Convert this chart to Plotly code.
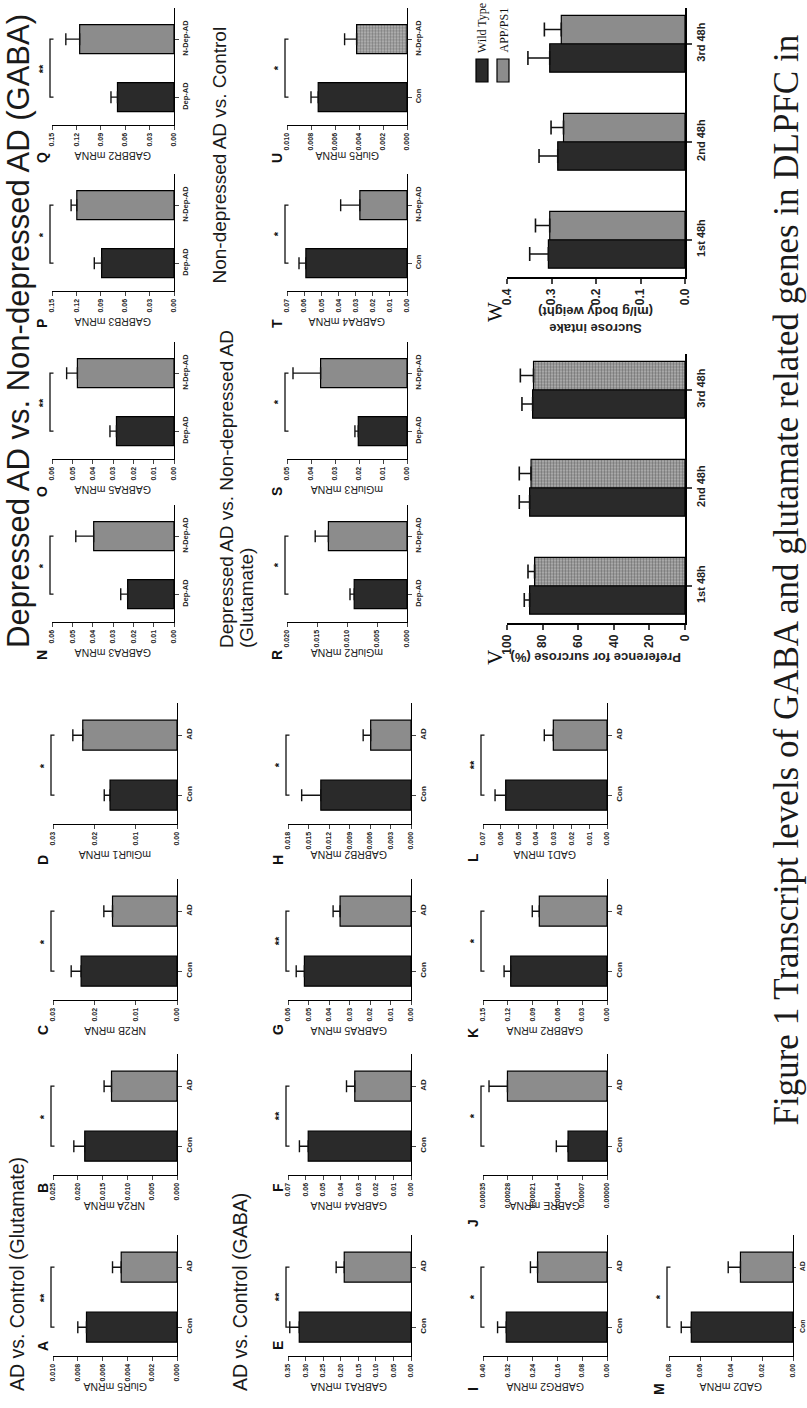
import plotly.graph_objects as go

W, H = 807, 1408

# ------------------------------------------------------------------ data
PANEL_IDS = list("ABCDEFGHIJKLMNOPQRSTU")

GENE_NAMES = [
    "GluR5 mRNA", "NR2A mRNA", "NR2B mRNA", "mGluR1 mRNA",
    "GABRA1 mRNA", "GABRA4 mRNA", "GABRA5 mRNA", "GABRB2 mRNA",
    "GABRG2 mRNA", "GABRE mRNA", "GABBR2 mRNA", "GAD1 mRNA",
    "GAD2 mRNA",
    "GABRA3 mRNA", "GABRA5 mRNA", "GABRB3 mRNA", "GABBR2 mRNA",
    "mGluR2 mRNA", "mGluR3 mRNA", "GABRA4 mRNA", "GluR5 mRNA",
]

GROUP_LABELS = ([("Con", "AD")] * 13
                + [("Dep-AD", "N-Dep-AD")] * 6
                + [("Con", "N-Dep-AD")] * 2)

MEAN_FIRST = [0.0073, 0.0186, 0.0232, 0.0162,
              0.318, 0.0585, 0.052, 0.0132,
              0.325, 0.00011, 0.1165, 0.0572,
              0.0656,
              0.0228, 0.0283, 0.089, 0.0695,
              0.0088, 0.0203, 0.059, 0.0074]
SEM_FIRST = [0.0007, 0.0022, 0.0024, 0.0014,
             0.027, 0.005, 0.004, 0.0028,
             0.028, 0.000033, 0.008, 0.006,
             0.0065,
             0.0034, 0.0032, 0.009, 0.008,
             0.0007, 0.0014, 0.004, 0.0006]
MEAN_SECOND = [0.0045, 0.0132, 0.0156, 0.0228,
               0.19, 0.032, 0.0346, 0.0059,
               0.224, 0.000281, 0.0819, 0.0303,
               0.0339,
               0.0395, 0.0475, 0.1195, 0.116,
               0.0131, 0.036, 0.0275, 0.0042]
SEM_SECOND = [0.0007, 0.0015, 0.0021, 0.0024,
              0.023, 0.0047, 0.0034, 0.0011,
              0.023, 0.000052, 0.0085, 0.0051,
              0.0079,
              0.0088, 0.0053, 0.007, 0.017,
              0.0022, 0.0115, 0.0112, 0.001]

SIGNIFICANCE = ["**", "*", "*", "*",
                "**", "**", "**", "*",
                "*", "*", "*", "**",
                "*",
                "*", "**", "*", "**",
                "*", "*", "*", "*"]

AXIS_TICKS = [
    ["0.000", "0.002", "0.004", "0.006", "0.008", "0.010"],
    ["0.000", "0.005", "0.010", "0.015", "0.020", "0.025"],
    ["0.00", "0.01", "0.02", "0.03"],
    ["0.00", "0.01", "0.02", "0.03"],
    ["0.00", "0.05", "0.10", "0.15", "0.20", "0.25", "0.30", "0.35"],
    ["0.00", "0.01", "0.02", "0.03", "0.04", "0.05", "0.06", "0.07"],
    ["0.00", "0.01", "0.02", "0.03", "0.04", "0.05", "0.06"],
    ["0.000", "0.003", "0.006", "0.009", "0.012", "0.015", "0.018"],
    ["0.00", "0.08", "0.16", "0.24", "0.32", "0.40"],
    ["0.00000", "0.00007", "0.00014", "0.00021", "0.00028", "0.00035"],
    ["0.00", "0.03", "0.06", "0.09", "0.12", "0.15"],
    ["0.00", "0.01", "0.02", "0.03", "0.04", "0.05", "0.06", "0.07"],
    ["0.00", "0.02", "0.04", "0.06", "0.08"],
    ["0.00", "0.01", "0.02", "0.03", "0.04", "0.05", "0.06"],
    ["0.00", "0.01", "0.02", "0.03", "0.04", "0.05", "0.06"],
    ["0.00", "0.03", "0.06", "0.09", "0.12", "0.15"],
    ["0.00", "0.03", "0.06", "0.09", "0.12", "0.15"],
    ["0.000", "0.005", "0.010", "0.015", "0.020"],
    ["0.00", "0.01", "0.02", "0.03", "0.04", "0.05"],
    ["0.00", "0.01", "0.02", "0.03", "0.04", "0.05", "0.06", "0.07"],
    ["0.000", "0.002", "0.004", "0.006", "0.008", "0.010"],
]

# sucrose preference test, wild type vs APP/PS1 mice
PERIODS = ["1st 48h", "2nd 48h", "3rd 48h"]
PREF_WT = [87.3, 87.3, 85.6]
PREF_WT_SEM = [3.0, 5.8, 6.0]
PREF_APP = [84.5, 86.5, 85.1]
PREF_APP_SEM = [3.7, 6.6, 7.4]
PREF_TICKS = ["0", "20", "40", "60", "80", "100"]
INTAKE_WT = [0.307, 0.286, 0.304]
INTAKE_WT_SEM = [0.042, 0.042, 0.049]
INTAKE_APP = [0.304, 0.273, 0.278]
INTAKE_APP_SEM = [0.032, 0.028, 0.038]
INTAKE_TICKS = ["0.0", "0.1", "0.2", "0.3", "0.4"]

# ------------------------------------------------------------------ layout
# panel frame in page pixels: (x of axis maximum, x of zero line, y of value axis)
PANEL_FRAME = {
    "A": (53, 177, 1356), "B": (53, 177, 1175), "C": (53, 177, 1000), "D": (53, 177, 824),
    "E": (288, 411, 1356), "F": (288, 411, 1175), "G": (288, 411, 1000), "H": (288, 411, 824),
    "I": (483, 607, 1356), "J": (483, 607, 1175), "K": (483, 607, 1000), "L": (483, 607, 824),
    "M": (669, 793, 1356),
    "N": (52, 174, 622), "O": (52, 174, 459), "P": (52, 174, 291), "Q": (52, 174, 125),
    "R": (287, 407, 622), "S": (287, 407, 459), "T": (287, 407, 291), "U": (287, 407, 125),
}
# offset of each panel letter below the value axis, in pixels
LETTER_DROP = {"A": -10, "E": -10, "B": 13, "F": 13, "C": 30, "G": 30,
               "D": 36, "H": 36, "J": 48}
CAT_RANGE = (-0.48, 1.53)

DARK = "#2a2a2a"
GREY = "#8c8c8c"
DOT_BG = "#b9b9b9"
SANS = "Liberation Sans, Arial, sans-serif"
SERIF = "Liberation Serif, Times New Roman, serif"


def px_x(x):
    return x / W


def px_y(y):
    return 1 - y / H


def names(n):
    s = "" if n == 1 else str(n)
    return "x" + s, "y" + s, "xaxis" + s, "yaxis" + s


fig = go.Figure()
layout_axes = {}
annotations = []
shapes = []

for n, pid in enumerate(PANEL_IDS, start=1):
    x0, x1, yb = PANEL_FRAME[pid]
    ppu = 60 if n <= 13 else 58
    r0, r1 = CAT_RANGE
    yt = yb - (r1 - r0) * ppu
    ticks = AXIS_TICKS[n - 1]
    vmax = float(ticks[-1])
    cats = list(GROUP_LABELS[n - 1])
    xa, ya, xkey, ykey = names(n)
    patterned = pid == "U"
    edge = pid == "M"

    fig.add_trace(go.Bar(
        x=[MEAN_FIRST[n - 1], MEAN_SECOND[n - 1]],
        y=cats,
        orientation="h",
        width=0.5,
        xaxis=xa, yaxis=ya,
        marker=dict(
            color=[DARK, DOT_BG if patterned else GREY],
            line=dict(color="black", width=1.2),
            pattern=dict(shape=["", "." if patterned else ""],
                         fgcolor="#2e2e2e", bgcolor=DOT_BG,
                         size=3, solidity=0.5),
        ),
        error_x=dict(type="data", symmetric=False,
                     array=[SEM_FIRST[n - 1], SEM_SECOND[n - 1]],
                     arrayminus=[0, 0], color="#111111",
                     thickness=1.4, width=6),
        hoverinfo="skip",
    ))

    layout_axes[xkey] = dict(
        domain=[px_x(x0), px_x(x1)], anchor=ya, range=[vmax, 0],
        tickvals=[float(t) for t in ticks], ticktext=ticks,
        tickangle=-90, ticks="outside", ticklen=4, tickwidth=1.2,
        tickfont=dict(family=SANS, size=7, color="#222", weight="bold"),
        showline=True, linecolor="black", linewidth=1.3,
        showgrid=False, zeroline=False, automargin=False, fixedrange=True,
    )
    layout_axes[ykey] = dict(
        domain=[px_y(yb), px_y(yt)], anchor=xa, side="right",
        type="category", categoryorder="array", categoryarray=cats,
        range=[r0, r1], tickangle=-90, ticks="outside",
        ticklen=2 if edge else 4, tickwidth=1.2,
        tickfont=dict(family=SANS, size=7 if edge else (8 if n <= 13 else 7.5),
                      color="#222", weight="bold"),
        showline=True, linecolor="black", linewidth=1.3,
        showgrid=False, zeroline=False, automargin=False, fixedrange=True,
    )

    # significance bracket between the two bars
    span = x1 - x0
    bx = -2 / span
    tk = 3.5 / span
    f0 = (0 - r0) / (r1 - r0)
    f1 = (1 - r0) / (r1 - r0)
    shapes.append(dict(
        type="path", xref=xa + " domain", yref=ya + " domain",
        path=f"M {bx + tk},{f0} L {bx},{f0} L {bx},{f1} L {bx + tk},{f1}",
        line=dict(color="#111", width=1.3),
    ))
    annotations.append(dict(
        xref=xa + " domain", yref=ya + " domain",
        x=bx - 7 / span, y=(f0 + f1) / 2, text=SIGNIFICANCE[n - 1],
        textangle=-90, showarrow=False, xanchor="center", yanchor="middle",
        font=dict(family=SANS, size=11, color="#111", weight="bold"),
    ))
    # value-axis title, upside down below the axis
    annotations.append(dict(
        xref=xa + " domain", yref="paper", x=0.5, y=px_y(yb + 31),
        text=GENE_NAMES[n - 1], textangle=180, showarrow=False,
        xanchor="center", yanchor="middle",
        font=dict(family=SANS, size=10.5, color="#222"),
    ))
    # panel letter
    annotations.append(dict(
        xref="paper", yref="paper", x=px_x(x0 - 10),
        y=px_y(yb + LETTER_DROP.get(pid, 33)),
        text=pid, textangle=-90, showarrow=False,
        xanchor="center", yanchor="middle",
        font=dict(family=SANS, size=14, color="#111", weight="bold"),
    ))

# ------------------------------------------------- sucrose panels V and W
SUCROSE = [
    ("V", 507, 685, 623, PREF_WT, PREF_WT_SEM, PREF_APP, PREF_APP_SEM,
     PREF_TICKS, True, "Preference for surcrose (%)", 34),
    ("W", 507, 685, 277, INTAKE_WT, INTAKE_WT_SEM, INTAKE_APP, INTAKE_APP_SEM,
     INTAKE_TICKS, False, "Sucrose intake<br>(ml/g body weight)", 43),
]
n = len(PANEL_IDS)
for (pid, x0, x1, yb, wt, wt_sem, app, app_sem, ticks, dotted,
     title, title_off) in SUCROSE:
    n += 1
    xa, ya, xkey, ykey = names(n)
    r0, r1 = -0.38, 2.37
    yt = yb - (r1 - r0) * 98
    vmax = float(ticks[-1])
    fig.add_trace(go.Bar(
        x=wt, y=PERIODS, orientation="h", width=0.29, offset=-0.29,
        xaxis=xa, yaxis=ya, name="Wild Type",
        marker=dict(color=DARK, line=dict(color="black", width=1.2)),
        error_x=dict(type="data", symmetric=False, array=wt_sem,
                     arrayminus=[0] * 3, color="#111", thickness=1.6, width=7),
        hoverinfo="skip",
    ))
    app_marker = dict(color=GREY, line=dict(color="black", width=1.2))
    if dotted:
        app_marker = dict(color=DOT_BG, line=dict(color="black", width=1.2),
                          pattern=dict(shape=".", fgcolor="#2e2e2e",
                                       bgcolor=DOT_BG, size=3, solidity=0.5))
    fig.add_trace(go.Bar(
        x=app, y=PERIODS, orientation="h", width=0.29, offset=0,
        xaxis=xa, yaxis=ya, name="APP/PS1", marker=app_marker,
        error_x=dict(type="data", symmetric=False, array=app_sem,
                     arrayminus=[0] * 3, color="#111", thickness=1.6, width=7),
        hoverinfo="skip",
    ))
    layout_axes[xkey] = dict(
        domain=[px_x(x0), px_x(x1)], anchor=ya, range=[vmax, 0],
        tickvals=[float(t) for t in ticks], ticktext=ticks,
        tickangle=-90, ticks="outside", ticklen=5, tickwidth=1.5,
        tickfont=dict(family=SANS, size=12, color="#222", weight="bold"),
        showline=True, linecolor="black", linewidth=1.6,
        showgrid=False, zeroline=False, automargin=False, fixedrange=True,
    )
    layout_axes[ykey] = dict(
        domain=[px_y(yb), px_y(yt)], anchor=xa, side="right",
        type="category", categoryorder="array", categoryarray=PERIODS,
        range=[r0, r1], tickangle=-90, ticks="outside", ticklen=5,
        tickwidth=1.5,
        tickfont=dict(family=SANS, size=11, color="#222", weight="bold"),
        showline=True, linecolor="black", linewidth=1.6,
        showgrid=False, zeroline=False, automargin=False, fixedrange=True,
    )
    annotations.append(dict(
        xref=xa + " domain", yref="paper", x=0.5, y=px_y(yb + title_off),
        text=title, textangle=180, showarrow=False,
        xanchor="center", yanchor="middle",
        font=dict(family=SANS, size=13, color="#222", weight="bold"),
    ))
    annotations.append(dict(
        xref="paper", yref="paper", x=px_x(x0 - 12), y=px_y(yb + 35),
        text=pid, textangle=-90, showarrow=False,
        xanchor="center", yanchor="middle",
        font=dict(family=SERIF, size=21, color="#111"),
    ))

# legend for the sucrose panels
for cx, fill, label in [(482, DARK, "Wild Type"), (503, GREY, "APP/PS1")]:
    shapes.append(dict(type="rect", xref="paper", yref="paper",
                       x0=px_x(cx - 6), x1=px_x(cx + 6),
                       y0=px_y(82), y1=px_y(59),
                       fillcolor=fill, line=dict(color="black", width=1.2)))
    annotations.append(dict(
        xref="paper", yref="paper", x=px_x(cx), y=px_y(55),
        text=label, textangle=-90, showarrow=False,
        xanchor="center", yanchor="bottom",
        font=dict(family=SERIF, size=12, color="#111"),
    ))

# section headings: text, centre x, bottom y, font size
HEADINGS = [
    ("AD vs. Control (Glutamate)", 17, 1393, 19.5),
    ("AD vs. Control (GABA)", 240, 1393, 19.5),
    ("Depressed AD vs. Non-depressed AD (GABA)", 18, 650, 31),
    ("Depressed AD vs. Non-depressed AD", 226, 650, 19),
    ("(Glutamate)", 246, 650, 19),
    ("Non-depressed AD vs. Control", 219, 286, 19),
]
for text, cx, ybot, size in HEADINGS:
    annotations.append(dict(
        xref="paper", yref="paper", x=px_x(cx), y=px_y(ybot),
        text=text, textangle=-90, showarrow=False,
        xanchor="center", yanchor="bottom",
        font=dict(family=SANS, size=size, color="#1a1a1a"),
    ))

# figure caption
annotations.append(dict(
    xref="paper", yref="paper", x=px_x(786), y=px_y(1128),
    text="Figure 1 Transcript levels of GABA and glutamate related genes in DLPFC in",
    textangle=-90, showarrow=False, xanchor="center", yanchor="bottom",
    font=dict(family=SERIF, size=35, color="#1a1a1a"),
))

fig.update_layout(
    width=W, height=H,
    margin=dict(l=0, r=0, t=0, b=0, pad=0),
    paper_bgcolor="white", plot_bgcolor="white",
    showlegend=False, barmode="overlay",
    annotations=annotations, shapes=shapes,
    **layout_axes,
)

fig.write_html("out.html")
